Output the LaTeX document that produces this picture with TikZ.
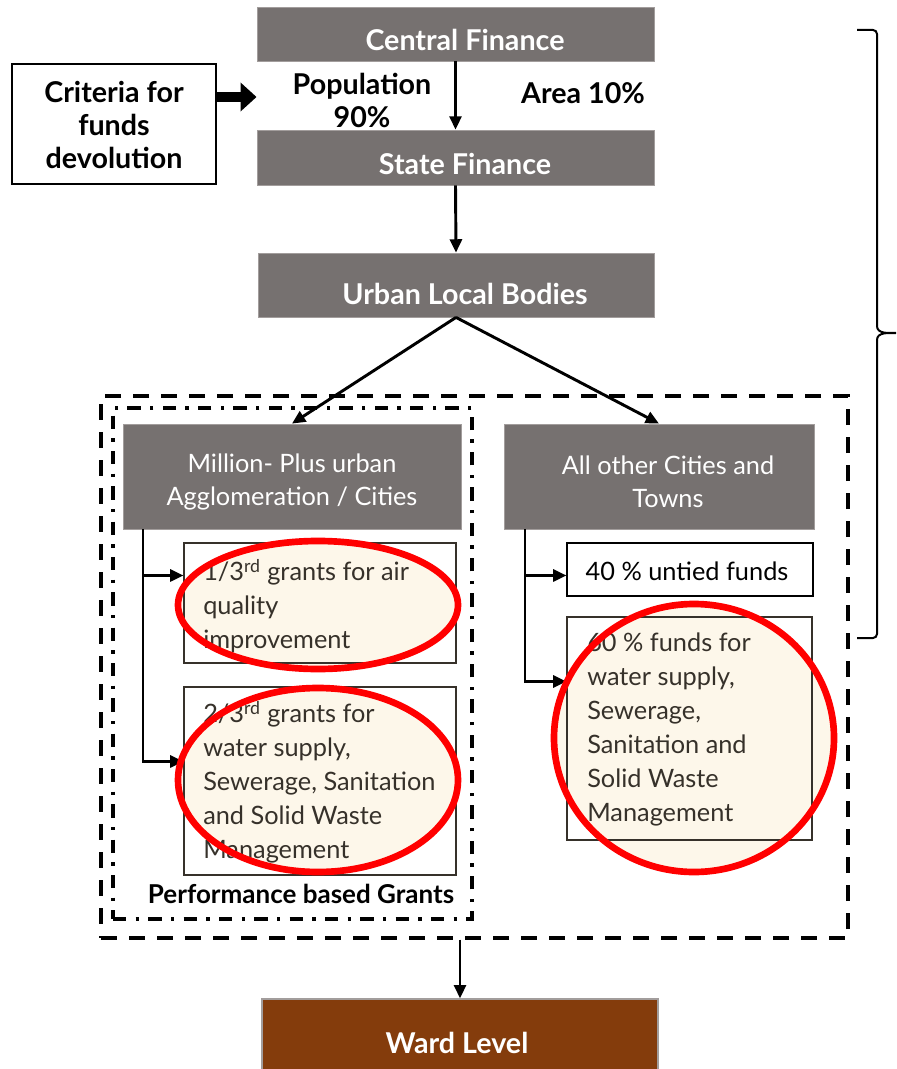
\documentclass[tikz,border=0pt]{standalone}
\usepackage{fontspec}
\setmainfont{Lato}
\usetikzlibrary{arrows.meta,shapes.geometric,fit,calc}
\definecolor{boxgray}{HTML}{767170}
\definecolor{boxedge}{HTML}{A29D9C}
\definecolor{ward}{HTML}{843C0C}
\definecolor{cream}{HTML}{FDF7EA}
\definecolor{ink}{HTML}{36312A}
\definecolor{hired}{HTML}{FF0000}
\tikzset{
  gbox/.style={fill=boxgray, draw=boxedge, line width=0.6pt, inner sep=0pt},
  wbox/.style={draw=black, line width=0.8pt, inner sep=0pt},
  htext/.style={text=white, font=\fontsize{21.5}{24.75}\selectfont\bfseries, align=center, inner sep=0pt},
  ntext/.style={text=white, font=\fontsize{19}{24.75}\selectfont, align=center, inner sep=0pt},
  btext/.style={text=black, font=\fontsize{21.5}{24.75}\selectfont\bfseries, align=center, inner sep=0pt},
  itext/.style={text=ink, font=\fontsize{19}{25.5}\selectfont, align=left, inner sep=0pt, anchor=west},
  arr/.style={line width=2.2pt, -{Triangle[length=10pt,width=9pt]}},
  oval/.style={draw=hired, line width=5pt},
  cfill/.style={fill=cream},
}
\begin{document}
\begin{tikzpicture}[x=0.75pt,y=-0.75pt]
\useasboundingbox (0,0) rectangle (896,1069);
% top boxes
\node[gbox, fit={(257,7) (654,61)}] (cf) {};
\node[gbox, fit={(257,130) (654,185)}] (sf) {};
\node[gbox, fit={(258,253) (654,317)}] (ulb) {};
\node[htext] (tcf) at (465,40) {Central Finance};
\node[htext] (tsf) at (465,164) {State Finance};
\node[htext] (tulb) at (465,294) {Urban Local Bodies};
\node[btext] (pop) at (362,100) {Population\\90\%};
\node[btext] (area) at (583,93) {Area 10\%};
\node[wbox, fit={(12,64) (216,184)}] (crit) {};
\node[btext] (tcrit) at (114,125) {Criteria for\\funds\\devolution};
\draw[line width=8pt, -{Triangle[length=12pt,width=21pt]}] ($(crit.east)+(0,-27)$) -- ($(crit.east)+(40,-27)$);
\draw[arr] (cf.south) -- (sf.north);
\draw[arr] (sf.south) -- (ulb.north);
% grouping frames
\node[draw, line width=2.3pt, dash pattern=on 12pt off 9pt, inner sep=0pt, fit={(101,396) (848,938)}] (outer) {};
\node[draw, line width=2.3pt, dash pattern=on 10pt off 7pt on 2.5pt off 7pt, inner sep=0pt, fit={(113,408) (472,919)}] (inner) {};
% second level
\node[gbox, fit={(123,424) (461,529)}] (mil) {};
\node[gbox, fit={(504,424) (814,529)}] (oth) {};
\node[ntext] (tmil) at (292,482) {Million- Plus urban\\Agglomeration / Cities};
\node[ntext] (toth) at (668,482) {All other Cities and\\Towns};
\draw[arr] (ulb.south) -- (mil.north);
\draw[arr] (ulb.south) -- (oth.north);
% left boxes
\node[wbox, fit={(184,543) (456,663)}] (b13) {};
\node[wbox, fit={(184,687) (456,875)}] (b23) {};
\coordinate (lx) at (143,529);
\draw[arr] (lx) |- ($(b13.north west)+(0,33)$);
\draw[arr] (lx) |- ($(b23.north west)+(0,75)$);
% right boxes
\node[wbox, fit={(567,543) (813,596)}] (b40) {};
\node[wbox, fit={(567,617) (812,840)}] (b60) {};
\coordinate (rx) at (525,529);
\draw[arr] (rx) |- ($(b40.north west)+(0,33)$);
\draw[arr] (rx) |- ($(b60.north west)+(0,65)$);
\node[font=\fontsize{19}{24.75}\selectfont, inner sep=0pt] (t40) at (687,571) {40 \% untied funds};
% highlight ellipses
\path[cfill] (318,605) ellipse [x radius=140, y radius=64];
\path[cfill] (318,780) ellipse [x radius=140, y radius=92];
\path[cfill] (694,738) ellipse [x radius=140, y radius=134];
\draw[ink, line width=0.8pt] (184,543) rectangle (456,663);
\draw[ink, line width=0.8pt] (184,687) rectangle (456,875);
\draw[ink, line width=0.8pt] (567,617) rectangle (812,840);
\node[itext] (t13) at (203,606) {1/3\textsuperscript{rd} grants for air\\quality\\improvement};
\node[itext] (t23) at (203,782) {2/3\textsuperscript{rd} grants for\\water supply,\\Sewerage, Sanitation\\and Solid Waste\\Management};
\node[itext] (t60) at (587,729) {60 \% funds for\\water supply,\\Sewerage,\\Sanitation and\\Solid Waste\\Management};
\draw[oval] (318,605) ellipse [x radius=140, y radius=64];
\draw[oval] (318,780) ellipse [x radius=140, y radius=92];
\draw[oval] (694,738) ellipse [x radius=140, y radius=134];
\node[btext, font=\fontsize{19.5}{20}\selectfont\bfseries] (perf) at (301,894) {Performance based Grants};
% ward
\node[fill=ward, draw=boxedge, line width=1pt, inner sep=0pt, fit={(262,999) (658,1080)}] (wardbox) {};
\node[htext] (tward) at (457,1043) {Ward Level};
\draw[arr] (wardbox.north |- outer.south) -- (wardbox.north);
% brace
\draw[line width=1.5pt, rounded corners=3pt] (857,30) -- (877,30) -- (877,326);
\draw[line width=1.5pt] (877,326) to[out=-90,in=180] (896,333) to[out=180,in=90] (877,340);
\draw[line width=1.5pt, rounded corners=3pt] (877,340) -- (877,638) -- (857,638);
\end{tikzpicture}
\end{document}
